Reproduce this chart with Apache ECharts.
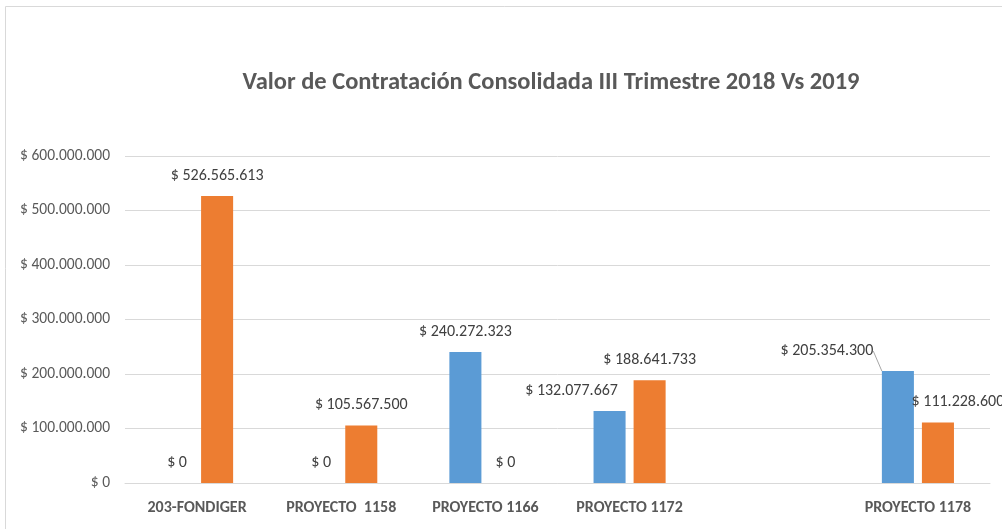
<!DOCTYPE html>
<html>
<head>
<meta charset="utf-8">
<script src="https://cdn.jsdelivr.net/npm/echarts@6/dist/echarts.min.js"></script>
<style>
    html, body { margin: 0; padding: 0; background: #fff; }
    #chart { width: 1002px; height: 529px; }
</style>
</head>
<body>
<div id="chart"></div>
<script>
const categories = ['203-FONDIGER', 'PROYECTO  1158', 'PROYECTO 1166', 'PROYECTO 1172', '', 'PROYECTO 1178'];
const values2018 = [0, 0, 240272323, 132077667, null, 205354300];
const values2019 = [526565613, 105567500, 0, 188641733, null, 111228600];
const font = 'Carlito, "Liberation Sans Narrow", "DejaVu Sans Condensed", sans-serif';

function money(v) {
    return '$ ' + String(Math.round(v)).replace(/\B(?=(\d{3})+(?!\d))/g, '.');
}

// labels that Excel moved by hand
const shift2018 = {3: -38, 5: -71};
const shift2019 = {5: 20};

let chart = echarts.init(document.getElementById('chart'));
chart.setOption({
    animation: false,
    graphic: [{
        type: 'rect',
        shape: {x: 5.5, y: 6.5, width: 1200, height: 700},
        style: {fill: 'none', stroke: '#d9d9d9', lineWidth: 1}
    }],
    title: {
        text: 'Valor de Contratación Consolidada III Trimestre 2018 Vs 2019',
        left: 546,
        top: 65,
        textAlign: 'center',
        textStyle: {
            fontFamily: font,
            fontSize: 24.5,
            fontWeight: 'bold',
            color: '#595959'
        }
    },
    grid: {
        left: 125,
        right: 12,
        top: 156,
        bottom: 46
    },
    xAxis: [{
        type: 'category',
        data: categories,
        axisLine: {lineStyle: {color: '#d9d9d9'}},
        axisTick: {show: false},
        axisLabel: {
            margin: 17,
            interval: 0,
            fontFamily: font,
            fontSize: 16,
            fontWeight: 'bold',
            color: '#595959'
        }
    }],
    yAxis: [{
        type: 'value',
        min: 0,
        max: 600000000,
        interval: 100000000,
        axisLine: {show: false},
        axisTick: {show: false},
        splitLine: {lineStyle: {color: '#d9d9d9'}},
        axisLabel: {
            margin: 15,
            fontFamily: font,
            fontSize: 15.5,
            color: '#595959',
            formatter: money
        }
    }],
    series: [
        {
            name: '2018',
            type: 'bar',
            data: values2018.map((v, i) => i === 5 ? {value: v, labelLine: {show: true}} : v),
            itemStyle: {color: '#5b9bd5'},
            barGap: '25%',
            barCategoryGap: '50%',
            label: {
                show: true,
                position: 'top',
                distance: 12,
                fontFamily: font,
                fontSize: 16,
                color: '#404040',
                formatter: (p) => money(p.value)
            },
            labelLine: {
                show: false,
                lineStyle: {color: '#a6a6a6', width: 1}
            },
            labelLayout: (p) => shift2018[p.dataIndex] ? {dx: shift2018[p.dataIndex]} : {}
        },
        {
            name: '2019',
            type: 'bar',
            data: values2019,
            itemStyle: {color: '#ed7d31'},
            barGap: '25%',
            barCategoryGap: '50%',
            label: {
                show: true,
                position: 'top',
                distance: 12,
                fontFamily: font,
                fontSize: 16,
                color: '#404040',
                formatter: (p) => money(p.value)
            },
            labelLayout: (p) => shift2019[p.dataIndex] ? {dx: shift2019[p.dataIndex]} : {}
        }
    ]
});
</script>
</body>
</html>
